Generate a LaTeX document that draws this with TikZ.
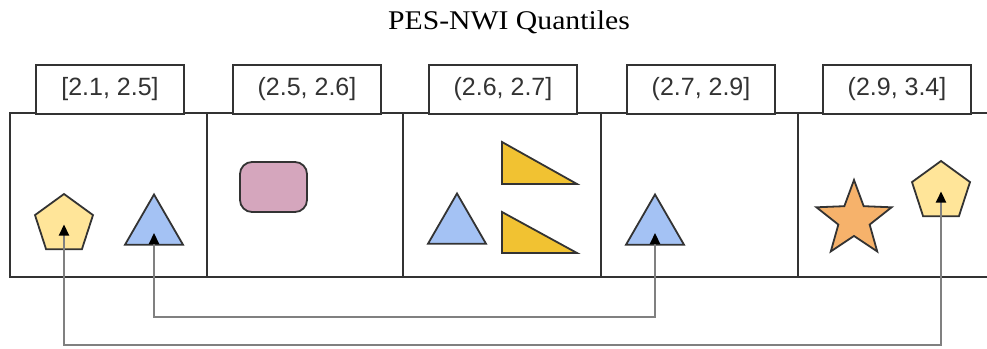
\documentclass[tikz,border=0pt]{standalone}
\usepackage{fontspec}
\setmainfont{Liberation Serif}
\newfontfamily\titlefont[FakeStretch=1.1]{Liberation Serif}
\newfontfamily\labelfont{Liberation Sans}
\usetikzlibrary{shapes.geometric,arrows.meta}
\definecolor{frame}{HTML}{333333}
\definecolor{wire}{HTML}{808080}
\definecolor{pentfill}{HTML}{FFE599}
\definecolor{trifill}{HTML}{A4C2F4}
\definecolor{wedgefill}{HTML}{F1C232}
\definecolor{starfill}{HTML}{F6B26B}
\definecolor{boxfill}{HTML}{D5A6BD}
\tikzset{
  cellline/.style={draw=frame, line width=2pt},
  tag/.style={draw=frame, line width=2pt, fill=white, minimum width=148pt, minimum height=49pt,
              inner sep=0pt, text=frame, font=\labelfont\fontsize{25}{25}\selectfont},
  glyph/.style={draw=frame, line width=1.8pt, inner sep=0pt, outer sep=0pt},
  pent/.style={glyph, regular polygon, regular polygon sides=5, minimum size=61pt, fill=pentfill},
  tri/.style={glyph, regular polygon, regular polygon sides=3, minimum size=67pt, fill=trifill},
  link/.style={draw=wire, line width=2.2pt, {Triangle[length=11pt,width=10pt,color=black]}-{Triangle[length=11pt,width=10pt,color=black]}},
}
\begin{document}
\begin{tikzpicture}[x=1pt,y=-1pt]
\useasboundingbox (0,0) rectangle (987,348);

% title
\node[anchor=base, font=\titlefont\fontsize{27}{27}\selectfont] (title) at (509,29) {PES-NWI Quantiles};

% strip of quantile cells
\draw[cellline] (987,113) -- (10,113) -- (10,277) -- (987,277);
\foreach \x in {207,403,601,798} \draw[cellline] (\x,113) -- (\x,277);

% interval tags
\node[tag, anchor=north west] (q1) at (35,64)  {[2.1, 2.5]};
\node[tag, anchor=north west] (q2) at (232,64) {(2.5, 2.6]};
\node[tag, anchor=north west] (q3) at (428,64) {(2.6, 2.7]};
\node[tag, anchor=north west] (q4) at (626,64) {(2.7, 2.9]};
\node[tag, anchor=north west] (q5) at (822,64) {(2.9, 3.4]};

% cell 1
\node[pent] (pentA) at (64,224.5) {};
\node[tri] (triA) at (154,228) {};

% cell 2
\node[glyph, fill=boxfill, rounded corners=12pt, minimum width=67pt, minimum height=50pt] (rbox) at (273.5,187) {};

% cell 3
\node[tri] (triB) at (457,227) {};
\draw[glyph, fill=wedgefill, line join=miter] (502,142) -- (502,184) -- (577,184) -- cycle;
\draw[glyph, fill=wedgefill, line join=miter] (502,212) -- (502,253) -- (577,253) -- cycle;

% cell 4
\node[tri] (triC) at (655,228) {};

% cell 5
\node[glyph, star, star points=5, star point ratio=2.4, minimum size=79pt, fill=starfill] (starA) at (854,219.5) {};
\node[pent] (pentB) at (941,191.5) {};

% rails under the strip
\coordinate (railA) at (0,317);
\coordinate (railB) at (0,345);

% links between matching shapes
\draw[link] ([yshift=-5pt]triA.center) -- (triA.center |- railA) -- (triC.center |- railA) -- ([yshift=-5pt]triC.center);
\draw[link] (pentA.center) -- (pentA.center |- railB) -- (pentB.center |- railB) -- (pentB.center);
\end{tikzpicture}
\end{document}
